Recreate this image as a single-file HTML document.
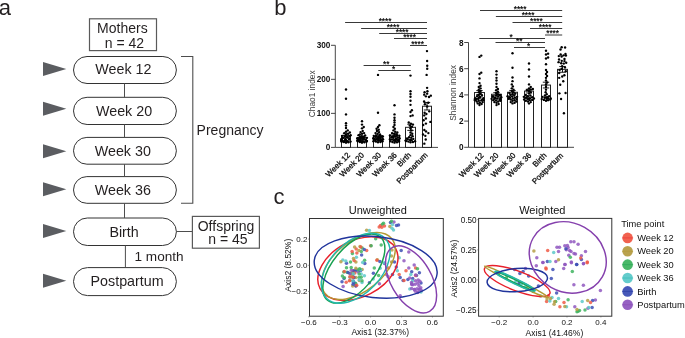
<!DOCTYPE html>
<html><head><meta charset="utf-8"><style>
html,body{margin:0;padding:0;background:#fff;}
body{width:685px;height:338px;overflow:hidden;}
svg{display:block;will-change:transform;font-family:"Liberation Sans", sans-serif;}
</style></head><body>
<svg width="685" height="338" viewBox="0 0 685 338">
<text x="-1.2" y="15.3" font-size="22" text-anchor="start" fill="#231f20" font-weight="normal" >a</text>
<rect x="89.5" y="18.8" width="67" height="31.8" fill="none" stroke="#5a5a5a" stroke-width="1.2"/>
<text x="122.4" y="33.2" font-size="14" text-anchor="middle" fill="#231f20" font-weight="normal" >Mothers</text>
<text x="124.4" y="47.5" font-size="14" text-anchor="middle" fill="#231f20" font-weight="normal" >n = 42</text>
<rect x="73.5" y="56.5" width="102.9" height="27.0" rx="13.5" ry="13.5" fill="#fff" stroke="#333" stroke-width="1"/>
<text x="123.35" y="74.1" font-size="14.3" text-anchor="middle" fill="#231f20" font-weight="normal" >Week 12</text>
<polygon points="43,62.10 66.3,69.10 43,76.10" fill="#5b5d61"/>
<rect x="73.5" y="97.3" width="102.9" height="27.2" rx="13.6" ry="13.6" fill="#fff" stroke="#333" stroke-width="1"/>
<text x="124.05" y="115.5" font-size="14.3" text-anchor="middle" fill="#231f20" font-weight="normal" >Week 20</text>
<polygon points="43,101.80 66.3,108.80 43,115.80" fill="#5b5d61"/>
<line x1="124.5" y1="83.5" x2="124.5" y2="97.3" stroke="#4d4d4d" stroke-width="1"/>
<rect x="73.5" y="137.4" width="102.9" height="26.8" rx="13.4" ry="13.4" fill="#fff" stroke="#333" stroke-width="1"/>
<text x="122.80" y="155.9" font-size="14.3" text-anchor="middle" fill="#231f20" font-weight="normal" >Week 30</text>
<polygon points="43,144.20 66.3,151.20 43,158.20" fill="#5b5d61"/>
<line x1="124.5" y1="124.5" x2="124.5" y2="137.4" stroke="#4d4d4d" stroke-width="1"/>
<rect x="73.5" y="176.6" width="102.9" height="26.7" rx="13.35" ry="13.35" fill="#fff" stroke="#333" stroke-width="1"/>
<text x="122.80" y="194.8" font-size="14.3" text-anchor="middle" fill="#231f20" font-weight="normal" >Week 36</text>
<polygon points="43,182.20 66.3,189.20 43,196.20" fill="#5b5d61"/>
<line x1="124.5" y1="164.20000000000002" x2="124.5" y2="176.6" stroke="#4d4d4d" stroke-width="1"/>
<rect x="73.5" y="218.0" width="102.9" height="27.5" rx="13.75" ry="13.75" fill="#fff" stroke="#333" stroke-width="1"/>
<text x="124.10" y="236.6" font-size="14.3" text-anchor="middle" fill="#231f20" font-weight="normal" >Birth</text>
<polygon points="43,223.90 66.3,230.90 43,237.90" fill="#5b5d61"/>
<line x1="124.5" y1="203.29999999999998" x2="124.5" y2="218.0" stroke="#4d4d4d" stroke-width="1"/>
<rect x="73.5" y="267.6" width="102.9" height="28.0" rx="14.0" ry="14.0" fill="#fff" stroke="#333" stroke-width="1"/>
<text x="127.10" y="286.1" font-size="14.3" text-anchor="middle" fill="#231f20" font-weight="normal" >Postpartum</text>
<polygon points="43,273.70 66.3,280.70 43,287.70" fill="#5b5d61"/>
<line x1="125.4" y1="245.5" x2="125.4" y2="267.6" stroke="#4d4d4d" stroke-width="1"/>
<polyline points="181,56.5 192.8,56.5 192.8,203.2 181,203.2" fill="none" stroke="#4d4d4d" stroke-width="1.1"/>
<text x="196.6" y="135.2" font-size="14" text-anchor="start" fill="#231f20" font-weight="normal" >Pregnancy</text>
<line x1="176.4" y1="231.5" x2="192.4" y2="231.5" stroke="#4d4d4d" stroke-width="1"/>
<rect x="192.4" y="216.4" width="67" height="31.8" fill="none" stroke="#5a5a5a" stroke-width="1.2"/>
<text x="226" y="230.6" font-size="14" text-anchor="middle" fill="#231f20" font-weight="normal" >Offspring</text>
<text x="228" y="244.4" font-size="14" text-anchor="middle" fill="#231f20" font-weight="normal" >n = 45</text>
<text x="134.5" y="260.8" font-size="13.6" text-anchor="start" fill="#231f20" font-weight="normal" >1 month</text>
<text x="274.2" y="15.3" font-size="22" text-anchor="start" fill="#231f20" font-weight="normal" >b</text>
<line x1="335.3" y1="45.31" x2="335.3" y2="147.4" stroke="#333" stroke-width="0.9"/>
<line x1="335.3" y1="147.4" x2="438" y2="147.4" stroke="#333" stroke-width="0.9"/>
<line x1="331.0" y1="147.40" x2="335.3" y2="147.40" stroke="#333" stroke-width="0.9"/>
<text x="330.3" y="150.40" font-size="8.2" text-anchor="end" fill="#111" font-weight="bold" >0</text>
<line x1="331.0" y1="113.37" x2="335.3" y2="113.37" stroke="#333" stroke-width="0.9"/>
<text x="330.3" y="116.37" font-size="8.2" text-anchor="end" fill="#111" font-weight="bold" >100</text>
<line x1="331.0" y1="79.34" x2="335.3" y2="79.34" stroke="#333" stroke-width="0.9"/>
<text x="330.3" y="82.34" font-size="8.2" text-anchor="end" fill="#111" font-weight="bold" >200</text>
<line x1="331.0" y1="45.31" x2="335.3" y2="45.31" stroke="#333" stroke-width="0.9"/>
<text x="330.3" y="48.31" font-size="8.2" text-anchor="end" fill="#111" font-weight="bold" >300</text>
<rect x="341.50" y="135.49" width="9.00" height="11.91" fill="#fff" stroke="#222" stroke-width="1"/>
<circle cx="346.00" cy="142.64" r="1.2" fill="#000"/>
<circle cx="348.45" cy="142.30" r="1.2" fill="#000"/>
<circle cx="343.90" cy="141.96" r="1.2" fill="#000"/>
<circle cx="350.55" cy="141.61" r="1.2" fill="#000"/>
<circle cx="341.45" cy="141.61" r="1.2" fill="#000"/>
<circle cx="344.17" cy="141.27" r="1.2" fill="#000"/>
<circle cx="342.37" cy="141.27" r="1.2" fill="#000"/>
<circle cx="347.57" cy="141.27" r="1.2" fill="#000"/>
<circle cx="341.55" cy="140.93" r="1.2" fill="#000"/>
<circle cx="346.37" cy="140.93" r="1.2" fill="#000"/>
<circle cx="344.60" cy="140.59" r="1.2" fill="#000"/>
<circle cx="341.40" cy="140.59" r="1.2" fill="#000"/>
<circle cx="346.08" cy="140.25" r="1.2" fill="#000"/>
<circle cx="341.19" cy="139.91" r="1.2" fill="#000"/>
<circle cx="345.31" cy="139.91" r="1.2" fill="#000"/>
<circle cx="349.15" cy="139.57" r="1.2" fill="#000"/>
<circle cx="341.53" cy="139.23" r="1.2" fill="#000"/>
<circle cx="341.74" cy="138.89" r="1.2" fill="#000"/>
<circle cx="345.21" cy="138.89" r="1.2" fill="#000"/>
<circle cx="349.40" cy="138.55" r="1.2" fill="#000"/>
<circle cx="342.09" cy="138.21" r="1.2" fill="#000"/>
<circle cx="343.12" cy="137.87" r="1.2" fill="#000"/>
<circle cx="347.05" cy="137.53" r="1.2" fill="#000"/>
<circle cx="347.33" cy="137.19" r="1.2" fill="#000"/>
<circle cx="344.95" cy="136.51" r="1.2" fill="#000"/>
<circle cx="349.50" cy="136.17" r="1.2" fill="#000"/>
<circle cx="342.15" cy="135.83" r="1.2" fill="#000"/>
<circle cx="350.66" cy="135.15" r="1.2" fill="#000"/>
<circle cx="346.00" cy="134.47" r="1.2" fill="#000"/>
<circle cx="348.10" cy="133.79" r="1.2" fill="#000"/>
<circle cx="344.25" cy="133.11" r="1.2" fill="#000"/>
<circle cx="349.85" cy="132.43" r="1.2" fill="#000"/>
<circle cx="346.00" cy="131.75" r="1.2" fill="#000"/>
<circle cx="347.75" cy="130.38" r="1.2" fill="#000"/>
<circle cx="346.00" cy="128.00" r="1.2" fill="#000"/>
<circle cx="346.00" cy="125.62" r="1.2" fill="#000"/>
<circle cx="346.00" cy="123.24" r="1.2" fill="#000"/>
<circle cx="346.00" cy="114.39" r="1.2" fill="#000"/>
<circle cx="346.00" cy="98.74" r="1.2" fill="#000"/>
<circle cx="346.00" cy="89.55" r="1.2" fill="#000"/>
<line x1="346.0" y1="133.79" x2="346.0" y2="137.19" stroke="#000" stroke-width="0.9"/>
<line x1="342.8" y1="133.79" x2="349.2" y2="133.79" stroke="#000" stroke-width="0.9"/>
<line x1="342.8" y1="137.19" x2="349.2" y2="137.19" stroke="#000" stroke-width="0.9"/>
<rect x="357.50" y="137.53" width="9.00" height="9.87" fill="#fff" stroke="#222" stroke-width="1"/>
<circle cx="362.00" cy="142.64" r="1.2" fill="#000"/>
<circle cx="364.45" cy="142.30" r="1.2" fill="#000"/>
<circle cx="359.90" cy="141.96" r="1.2" fill="#000"/>
<circle cx="366.55" cy="141.61" r="1.2" fill="#000"/>
<circle cx="357.80" cy="141.27" r="1.2" fill="#000"/>
<circle cx="362.80" cy="141.27" r="1.2" fill="#000"/>
<circle cx="360.93" cy="140.93" r="1.2" fill="#000"/>
<circle cx="366.95" cy="140.93" r="1.2" fill="#000"/>
<circle cx="357.28" cy="140.59" r="1.2" fill="#000"/>
<circle cx="365.73" cy="140.59" r="1.2" fill="#000"/>
<circle cx="359.81" cy="140.25" r="1.2" fill="#000"/>
<circle cx="358.30" cy="140.25" r="1.2" fill="#000"/>
<circle cx="358.03" cy="139.91" r="1.2" fill="#000"/>
<circle cx="360.01" cy="139.91" r="1.2" fill="#000"/>
<circle cx="365.29" cy="139.57" r="1.2" fill="#000"/>
<circle cx="358.68" cy="139.57" r="1.2" fill="#000"/>
<circle cx="362.85" cy="139.23" r="1.2" fill="#000"/>
<circle cx="363.44" cy="139.23" r="1.2" fill="#000"/>
<circle cx="360.67" cy="138.89" r="1.2" fill="#000"/>
<circle cx="362.50" cy="138.89" r="1.2" fill="#000"/>
<circle cx="357.45" cy="138.55" r="1.2" fill="#000"/>
<circle cx="357.42" cy="138.21" r="1.2" fill="#000"/>
<circle cx="358.94" cy="138.21" r="1.2" fill="#000"/>
<circle cx="366.90" cy="137.87" r="1.2" fill="#000"/>
<circle cx="363.88" cy="137.53" r="1.2" fill="#000"/>
<circle cx="361.25" cy="137.19" r="1.2" fill="#000"/>
<circle cx="360.07" cy="136.85" r="1.2" fill="#000"/>
<circle cx="362.89" cy="136.51" r="1.2" fill="#000"/>
<circle cx="361.51" cy="136.17" r="1.2" fill="#000"/>
<circle cx="365.15" cy="135.49" r="1.2" fill="#000"/>
<circle cx="358.50" cy="135.15" r="1.2" fill="#000"/>
<circle cx="359.92" cy="134.47" r="1.2" fill="#000"/>
<circle cx="362.00" cy="133.79" r="1.2" fill="#000"/>
<circle cx="364.10" cy="133.11" r="1.2" fill="#000"/>
<circle cx="360.60" cy="132.09" r="1.2" fill="#000"/>
<circle cx="362.70" cy="131.07" r="1.2" fill="#000"/>
<circle cx="362.00" cy="128.34" r="1.2" fill="#000"/>
<circle cx="363.75" cy="126.98" r="1.2" fill="#000"/>
<circle cx="362.00" cy="124.60" r="1.2" fill="#000"/>
<circle cx="362.00" cy="121.20" r="1.2" fill="#000"/>
<line x1="362.0" y1="136.51" x2="362.0" y2="138.55" stroke="#000" stroke-width="0.9"/>
<line x1="358.8" y1="136.51" x2="365.2" y2="136.51" stroke="#000" stroke-width="0.9"/>
<line x1="358.8" y1="138.55" x2="365.2" y2="138.55" stroke="#000" stroke-width="0.9"/>
<rect x="373.50" y="136.51" width="9.00" height="10.89" fill="#fff" stroke="#222" stroke-width="1"/>
<circle cx="378.00" cy="142.30" r="1.2" fill="#000"/>
<circle cx="380.45" cy="141.96" r="1.2" fill="#000"/>
<circle cx="375.90" cy="141.61" r="1.2" fill="#000"/>
<circle cx="382.55" cy="141.27" r="1.2" fill="#000"/>
<circle cx="373.45" cy="141.27" r="1.2" fill="#000"/>
<circle cx="381.06" cy="140.93" r="1.2" fill="#000"/>
<circle cx="380.07" cy="140.59" r="1.2" fill="#000"/>
<circle cx="375.34" cy="140.59" r="1.2" fill="#000"/>
<circle cx="378.77" cy="140.25" r="1.2" fill="#000"/>
<circle cx="378.26" cy="140.25" r="1.2" fill="#000"/>
<circle cx="381.90" cy="139.91" r="1.2" fill="#000"/>
<circle cx="380.39" cy="139.91" r="1.2" fill="#000"/>
<circle cx="375.79" cy="139.57" r="1.2" fill="#000"/>
<circle cx="382.99" cy="139.23" r="1.2" fill="#000"/>
<circle cx="374.03" cy="139.23" r="1.2" fill="#000"/>
<circle cx="377.15" cy="138.89" r="1.2" fill="#000"/>
<circle cx="380.67" cy="138.89" r="1.2" fill="#000"/>
<circle cx="374.38" cy="138.55" r="1.2" fill="#000"/>
<circle cx="377.89" cy="138.21" r="1.2" fill="#000"/>
<circle cx="373.21" cy="138.21" r="1.2" fill="#000"/>
<circle cx="379.75" cy="137.87" r="1.2" fill="#000"/>
<circle cx="380.75" cy="137.53" r="1.2" fill="#000"/>
<circle cx="378.76" cy="137.19" r="1.2" fill="#000"/>
<circle cx="375.90" cy="136.85" r="1.2" fill="#000"/>
<circle cx="382.90" cy="136.51" r="1.2" fill="#000"/>
<circle cx="381.90" cy="136.17" r="1.2" fill="#000"/>
<circle cx="373.80" cy="135.83" r="1.2" fill="#000"/>
<circle cx="376.06" cy="135.49" r="1.2" fill="#000"/>
<circle cx="379.75" cy="135.15" r="1.2" fill="#000"/>
<circle cx="380.03" cy="134.47" r="1.2" fill="#000"/>
<circle cx="377.65" cy="133.79" r="1.2" fill="#000"/>
<circle cx="375.55" cy="133.11" r="1.2" fill="#000"/>
<circle cx="379.05" cy="132.09" r="1.2" fill="#000"/>
<circle cx="376.95" cy="131.07" r="1.2" fill="#000"/>
<circle cx="378.70" cy="129.70" r="1.2" fill="#000"/>
<circle cx="376.60" cy="128.68" r="1.2" fill="#000"/>
<circle cx="378.00" cy="126.98" r="1.2" fill="#000"/>
<circle cx="379.40" cy="125.28" r="1.2" fill="#000"/>
<circle cx="378.00" cy="112.69" r="1.2" fill="#000"/>
<circle cx="378.00" cy="74.92" r="1.2" fill="#000"/>
<line x1="378.0" y1="135.15" x2="378.0" y2="137.87" stroke="#000" stroke-width="0.9"/>
<line x1="374.8" y1="135.15" x2="381.2" y2="135.15" stroke="#000" stroke-width="0.9"/>
<line x1="374.8" y1="137.87" x2="381.2" y2="137.87" stroke="#000" stroke-width="0.9"/>
<rect x="389.50" y="135.15" width="10.00" height="12.25" fill="#fff" stroke="#222" stroke-width="1"/>
<circle cx="394.50" cy="142.64" r="1.2" fill="#000"/>
<circle cx="396.95" cy="142.30" r="1.2" fill="#000"/>
<circle cx="392.40" cy="141.96" r="1.2" fill="#000"/>
<circle cx="399.05" cy="141.61" r="1.2" fill="#000"/>
<circle cx="390.30" cy="141.27" r="1.2" fill="#000"/>
<circle cx="395.48" cy="140.93" r="1.2" fill="#000"/>
<circle cx="395.33" cy="140.59" r="1.2" fill="#000"/>
<circle cx="394.04" cy="140.59" r="1.2" fill="#000"/>
<circle cx="398.04" cy="140.25" r="1.2" fill="#000"/>
<circle cx="399.12" cy="139.91" r="1.2" fill="#000"/>
<circle cx="394.23" cy="139.91" r="1.2" fill="#000"/>
<circle cx="392.05" cy="139.57" r="1.2" fill="#000"/>
<circle cx="396.21" cy="139.23" r="1.2" fill="#000"/>
<circle cx="389.93" cy="139.23" r="1.2" fill="#000"/>
<circle cx="396.60" cy="138.89" r="1.2" fill="#000"/>
<circle cx="396.03" cy="138.55" r="1.2" fill="#000"/>
<circle cx="399.63" cy="138.21" r="1.2" fill="#000"/>
<circle cx="393.45" cy="137.87" r="1.2" fill="#000"/>
<circle cx="397.85" cy="137.53" r="1.2" fill="#000"/>
<circle cx="391.35" cy="137.19" r="1.2" fill="#000"/>
<circle cx="392.26" cy="136.85" r="1.2" fill="#000"/>
<circle cx="395.20" cy="136.51" r="1.2" fill="#000"/>
<circle cx="393.31" cy="136.17" r="1.2" fill="#000"/>
<circle cx="399.40" cy="135.83" r="1.2" fill="#000"/>
<circle cx="389.95" cy="135.49" r="1.2" fill="#000"/>
<circle cx="396.95" cy="135.15" r="1.2" fill="#000"/>
<circle cx="396.25" cy="134.47" r="1.2" fill="#000"/>
<circle cx="394.15" cy="133.79" r="1.2" fill="#000"/>
<circle cx="392.05" cy="133.11" r="1.2" fill="#000"/>
<circle cx="397.30" cy="132.43" r="1.2" fill="#000"/>
<circle cx="395.20" cy="131.75" r="1.2" fill="#000"/>
<circle cx="393.45" cy="130.38" r="1.2" fill="#000"/>
<circle cx="394.85" cy="128.68" r="1.2" fill="#000"/>
<circle cx="393.45" cy="126.98" r="1.2" fill="#000"/>
<circle cx="394.50" cy="124.94" r="1.2" fill="#000"/>
<circle cx="394.50" cy="122.56" r="1.2" fill="#000"/>
<circle cx="394.50" cy="120.18" r="1.2" fill="#000"/>
<circle cx="394.50" cy="117.79" r="1.2" fill="#000"/>
<circle cx="394.50" cy="114.39" r="1.2" fill="#000"/>
<circle cx="394.50" cy="105.20" r="1.2" fill="#000"/>
<line x1="394.5" y1="133.79" x2="394.5" y2="136.51" stroke="#000" stroke-width="0.9"/>
<line x1="391.3" y1="133.79" x2="397.7" y2="133.79" stroke="#000" stroke-width="0.9"/>
<line x1="391.3" y1="136.51" x2="397.7" y2="136.51" stroke="#000" stroke-width="0.9"/>
<rect x="405.50" y="127.32" width="10.00" height="20.08" fill="#fff" stroke="#222" stroke-width="1"/>
<circle cx="410.50" cy="142.30" r="1.2" fill="#000"/>
<circle cx="412.95" cy="141.96" r="1.2" fill="#000"/>
<circle cx="408.40" cy="141.61" r="1.2" fill="#000"/>
<circle cx="415.05" cy="141.27" r="1.2" fill="#000"/>
<circle cx="406.30" cy="140.93" r="1.2" fill="#000"/>
<circle cx="405.53" cy="140.59" r="1.2" fill="#000"/>
<circle cx="411.55" cy="140.25" r="1.2" fill="#000"/>
<circle cx="410.10" cy="139.91" r="1.2" fill="#000"/>
<circle cx="407.70" cy="139.23" r="1.2" fill="#000"/>
<circle cx="413.30" cy="138.89" r="1.2" fill="#000"/>
<circle cx="407.05" cy="138.55" r="1.2" fill="#000"/>
<circle cx="411.20" cy="137.87" r="1.2" fill="#000"/>
<circle cx="409.10" cy="137.19" r="1.2" fill="#000"/>
<circle cx="412.60" cy="136.17" r="1.2" fill="#000"/>
<circle cx="410.50" cy="135.15" r="1.2" fill="#000"/>
<circle cx="412.25" cy="133.79" r="1.2" fill="#000"/>
<circle cx="410.50" cy="132.43" r="1.2" fill="#000"/>
<circle cx="411.55" cy="130.38" r="1.2" fill="#000"/>
<circle cx="410.50" cy="128.34" r="1.2" fill="#000"/>
<circle cx="411.90" cy="126.64" r="1.2" fill="#000"/>
<circle cx="409.80" cy="125.62" r="1.2" fill="#000"/>
<circle cx="412.95" cy="124.60" r="1.2" fill="#000"/>
<circle cx="410.85" cy="123.58" r="1.2" fill="#000"/>
<circle cx="408.75" cy="122.56" r="1.2" fill="#000"/>
<circle cx="410.50" cy="116.09" r="1.2" fill="#000"/>
<circle cx="412.60" cy="115.41" r="1.2" fill="#000"/>
<circle cx="410.50" cy="112.01" r="1.2" fill="#000"/>
<circle cx="411.90" cy="110.31" r="1.2" fill="#000"/>
<circle cx="410.50" cy="104.86" r="1.2" fill="#000"/>
<circle cx="410.50" cy="100.78" r="1.2" fill="#000"/>
<circle cx="410.50" cy="96.70" r="1.2" fill="#000"/>
<circle cx="410.50" cy="93.97" r="1.2" fill="#000"/>
<circle cx="410.50" cy="91.25" r="1.2" fill="#000"/>
<circle cx="410.50" cy="75.60" r="1.2" fill="#000"/>
<line x1="410.5" y1="124.26" x2="410.5" y2="130.38" stroke="#000" stroke-width="0.9"/>
<line x1="407.3" y1="124.26" x2="413.7" y2="124.26" stroke="#000" stroke-width="0.9"/>
<line x1="407.3" y1="130.38" x2="413.7" y2="130.38" stroke="#000" stroke-width="0.9"/>
<rect x="422.50" y="106.22" width="9.00" height="41.18" fill="#fff" stroke="#222" stroke-width="1"/>
<circle cx="426.99" cy="51.10" r="1.2" fill="#000"/>
<circle cx="427.13" cy="60.96" r="1.2" fill="#000"/>
<circle cx="427.22" cy="65.73" r="1.2" fill="#000"/>
<circle cx="427.21" cy="68.79" r="1.2" fill="#000"/>
<circle cx="426.62" cy="74.92" r="1.2" fill="#000"/>
<circle cx="427.10" cy="87.85" r="1.2" fill="#000"/>
<circle cx="427.43" cy="91.25" r="1.2" fill="#000"/>
<circle cx="424.57" cy="92.27" r="1.2" fill="#000"/>
<circle cx="427.15" cy="93.63" r="1.2" fill="#000"/>
<circle cx="424.21" cy="94.65" r="1.2" fill="#000"/>
<circle cx="430.82" cy="95.67" r="1.2" fill="#000"/>
<circle cx="425.93" cy="96.36" r="1.2" fill="#000"/>
<circle cx="429.03" cy="97.04" r="1.2" fill="#000"/>
<circle cx="424.11" cy="101.46" r="1.2" fill="#000"/>
<circle cx="428.31" cy="102.82" r="1.2" fill="#000"/>
<circle cx="424.91" cy="104.18" r="1.2" fill="#000"/>
<circle cx="427.18" cy="106.56" r="1.2" fill="#000"/>
<circle cx="429.23" cy="111.33" r="1.2" fill="#000"/>
<circle cx="424.58" cy="112.69" r="1.2" fill="#000"/>
<circle cx="426.37" cy="114.05" r="1.2" fill="#000"/>
<circle cx="424.22" cy="115.41" r="1.2" fill="#000"/>
<circle cx="425.84" cy="118.47" r="1.2" fill="#000"/>
<circle cx="423.65" cy="120.18" r="1.2" fill="#000"/>
<circle cx="430.41" cy="121.88" r="1.2" fill="#000"/>
<circle cx="425.93" cy="123.58" r="1.2" fill="#000"/>
<circle cx="423.23" cy="124.94" r="1.2" fill="#000"/>
<circle cx="424.32" cy="130.04" r="1.2" fill="#000"/>
<circle cx="426.05" cy="131.41" r="1.2" fill="#000"/>
<circle cx="428.37" cy="133.11" r="1.2" fill="#000"/>
<circle cx="423.05" cy="134.47" r="1.2" fill="#000"/>
<circle cx="425.31" cy="135.83" r="1.2" fill="#000"/>
<circle cx="425.72" cy="139.57" r="1.2" fill="#000"/>
<circle cx="424.34" cy="143.66" r="1.2" fill="#000"/>
<line x1="427.0" y1="102.48" x2="427.0" y2="109.97" stroke="#000" stroke-width="0.9"/>
<line x1="423.8" y1="102.48" x2="430.2" y2="102.48" stroke="#000" stroke-width="0.9"/>
<line x1="423.8" y1="109.97" x2="430.2" y2="109.97" stroke="#000" stroke-width="0.9"/>
<line x1="345.1" y1="22.5" x2="427" y2="22.5" stroke="#222" stroke-width="0.9"/>
<text x="385.05" y="23.90" font-size="8.2" text-anchor="middle" fill="#111" font-weight="bold" >****</text>
<line x1="361.1" y1="28.5" x2="427" y2="28.5" stroke="#222" stroke-width="0.9"/>
<text x="393.05" y="29.90" font-size="8.2" text-anchor="middle" fill="#111" font-weight="bold" >****</text>
<line x1="379.2" y1="33.5" x2="427" y2="33.5" stroke="#222" stroke-width="0.9"/>
<text x="402.10" y="34.90" font-size="8.2" text-anchor="middle" fill="#111" font-weight="bold" >****</text>
<line x1="394" y1="38.5" x2="427" y2="38.5" stroke="#222" stroke-width="0.9"/>
<text x="409.50" y="39.90" font-size="8.2" text-anchor="middle" fill="#111" font-weight="bold" >****</text>
<line x1="410" y1="45.5" x2="427" y2="45.5" stroke="#222" stroke-width="0.9"/>
<text x="417.50" y="46.90" font-size="8.2" text-anchor="middle" fill="#111" font-weight="bold" >****</text>
<line x1="363.6" y1="65.5" x2="410.8" y2="65.5" stroke="#222" stroke-width="0.9"/>
<text x="386.20" y="66.90" font-size="8.2" text-anchor="middle" fill="#111" font-weight="bold" >**</text>
<line x1="378.3" y1="70.5" x2="410.8" y2="70.5" stroke="#222" stroke-width="0.9"/>
<text x="393.55" y="71.90" font-size="8.2" text-anchor="middle" fill="#111" font-weight="bold" >*</text>
<text x="315.0" y="93.8" font-size="8.4" text-anchor="middle" fill="#3a3a3a" transform="rotate(-90 315.0 93.8)">Chao1 index</text>
<text x="350.70" y="155.70" font-size="7.9" text-anchor="end" fill="#111" stroke="#111" stroke-width="0.3" transform="rotate(-45 350.70 155.70)">Week 12</text>
<text x="364.70" y="155.70" font-size="7.9" text-anchor="end" fill="#111" stroke="#111" stroke-width="0.3" transform="rotate(-45 364.70 155.70)">Week 20</text>
<text x="381.60" y="155.70" font-size="7.9" text-anchor="end" fill="#111" stroke="#111" stroke-width="0.3" transform="rotate(-45 381.60 155.70)">Week 30</text>
<text x="397.40" y="155.70" font-size="7.9" text-anchor="end" fill="#111" stroke="#111" stroke-width="0.3" transform="rotate(-45 397.40 155.70)">Week 36</text>
<text x="411.70" y="155.70" font-size="7.9" text-anchor="end" fill="#111" stroke="#111" stroke-width="0.3" transform="rotate(-45 411.70 155.70)">Birth</text>
<text x="428.20" y="155.70" font-size="7.9" text-anchor="end" fill="#111" stroke="#111" stroke-width="0.3" transform="rotate(-45 428.20 155.70)">Postpartum</text>
<line x1="468.5" y1="42.500000000000014" x2="468.5" y2="147.3" stroke="#333" stroke-width="0.9"/>
<line x1="468.5" y1="147.3" x2="574" y2="147.3" stroke="#333" stroke-width="0.9"/>
<line x1="464.2" y1="147.30" x2="468.5" y2="147.30" stroke="#333" stroke-width="0.9"/>
<text x="463.5" y="150.30" font-size="8.2" text-anchor="end" fill="#111" font-weight="bold" >0</text>
<line x1="464.2" y1="121.10" x2="468.5" y2="121.10" stroke="#333" stroke-width="0.9"/>
<text x="463.5" y="124.10" font-size="8.2" text-anchor="end" fill="#111" font-weight="bold" >2</text>
<line x1="464.2" y1="94.90" x2="468.5" y2="94.90" stroke="#333" stroke-width="0.9"/>
<text x="463.5" y="97.90" font-size="8.2" text-anchor="end" fill="#111" font-weight="bold" >4</text>
<line x1="464.2" y1="68.70" x2="468.5" y2="68.70" stroke="#333" stroke-width="0.9"/>
<text x="463.5" y="71.70" font-size="8.2" text-anchor="end" fill="#111" font-weight="bold" >6</text>
<line x1="464.2" y1="42.50" x2="468.5" y2="42.50" stroke="#333" stroke-width="0.9"/>
<text x="463.5" y="45.50" font-size="8.2" text-anchor="end" fill="#111" font-weight="bold" >8</text>
<rect x="474.50" y="92.54" width="10.00" height="54.76" fill="#fff" stroke="#222" stroke-width="1"/>
<circle cx="479.50" cy="104.99" r="1.2" fill="#000"/>
<circle cx="481.60" cy="104.07" r="1.2" fill="#000"/>
<circle cx="477.75" cy="103.42" r="1.2" fill="#000"/>
<circle cx="479.85" cy="102.76" r="1.2" fill="#000"/>
<circle cx="482.65" cy="102.11" r="1.2" fill="#000"/>
<circle cx="476.70" cy="101.45" r="1.2" fill="#000"/>
<circle cx="478.80" cy="100.80" r="1.2" fill="#000"/>
<circle cx="481.25" cy="100.40" r="1.2" fill="#000"/>
<circle cx="483.70" cy="100.14" r="1.2" fill="#000"/>
<circle cx="474.95" cy="100.14" r="1.2" fill="#000"/>
<circle cx="475.52" cy="99.88" r="1.2" fill="#000"/>
<circle cx="474.91" cy="99.49" r="1.2" fill="#000"/>
<circle cx="482.29" cy="99.49" r="1.2" fill="#000"/>
<circle cx="475.65" cy="99.09" r="1.2" fill="#000"/>
<circle cx="476.88" cy="98.83" r="1.2" fill="#000"/>
<circle cx="478.37" cy="98.83" r="1.2" fill="#000"/>
<circle cx="483.36" cy="98.18" r="1.2" fill="#000"/>
<circle cx="475.14" cy="98.18" r="1.2" fill="#000"/>
<circle cx="480.20" cy="97.52" r="1.2" fill="#000"/>
<circle cx="478.97" cy="97.52" r="1.2" fill="#000"/>
<circle cx="480.01" cy="96.87" r="1.2" fill="#000"/>
<circle cx="477.05" cy="96.21" r="1.2" fill="#000"/>
<circle cx="481.95" cy="95.56" r="1.2" fill="#000"/>
<circle cx="478.80" cy="94.90" r="1.2" fill="#000"/>
<circle cx="480.55" cy="93.59" r="1.2" fill="#000"/>
<circle cx="478.80" cy="92.28" r="1.2" fill="#000"/>
<circle cx="480.55" cy="90.97" r="1.2" fill="#000"/>
<circle cx="478.80" cy="89.66" r="1.2" fill="#000"/>
<circle cx="480.55" cy="88.35" r="1.2" fill="#000"/>
<circle cx="478.80" cy="87.04" r="1.2" fill="#000"/>
<circle cx="480.55" cy="85.73" r="1.2" fill="#000"/>
<circle cx="479.50" cy="83.11" r="1.2" fill="#000"/>
<circle cx="479.50" cy="78.39" r="1.2" fill="#000"/>
<circle cx="479.50" cy="73.94" r="1.2" fill="#000"/>
<circle cx="481.25" cy="72.63" r="1.2" fill="#000"/>
<circle cx="479.50" cy="56.91" r="1.2" fill="#000"/>
<circle cx="481.25" cy="55.60" r="1.2" fill="#000"/>
<line x1="479.5" y1="90.58" x2="479.5" y2="94.51" stroke="#000" stroke-width="0.9"/>
<line x1="476.3" y1="90.58" x2="482.7" y2="90.58" stroke="#000" stroke-width="0.9"/>
<line x1="476.3" y1="94.51" x2="482.7" y2="94.51" stroke="#000" stroke-width="0.9"/>
<rect x="491.50" y="94.25" width="10.00" height="53.06" fill="#fff" stroke="#222" stroke-width="1"/>
<circle cx="496.50" cy="105.12" r="1.2" fill="#000"/>
<circle cx="498.60" cy="104.07" r="1.2" fill="#000"/>
<circle cx="496.50" cy="102.76" r="1.2" fill="#000"/>
<circle cx="494.40" cy="102.11" r="1.2" fill="#000"/>
<circle cx="498.25" cy="101.45" r="1.2" fill="#000"/>
<circle cx="500.35" cy="100.80" r="1.2" fill="#000"/>
<circle cx="496.15" cy="100.40" r="1.2" fill="#000"/>
<circle cx="493.35" cy="100.14" r="1.2" fill="#000"/>
<circle cx="500.49" cy="99.88" r="1.2" fill="#000"/>
<circle cx="499.82" cy="99.49" r="1.2" fill="#000"/>
<circle cx="500.29" cy="99.09" r="1.2" fill="#000"/>
<circle cx="491.60" cy="98.83" r="1.2" fill="#000"/>
<circle cx="494.20" cy="98.83" r="1.2" fill="#000"/>
<circle cx="497.55" cy="98.57" r="1.2" fill="#000"/>
<circle cx="495.62" cy="98.18" r="1.2" fill="#000"/>
<circle cx="495.03" cy="97.78" r="1.2" fill="#000"/>
<circle cx="500.50" cy="97.52" r="1.2" fill="#000"/>
<circle cx="501.26" cy="97.26" r="1.2" fill="#000"/>
<circle cx="493.00" cy="96.87" r="1.2" fill="#000"/>
<circle cx="498.25" cy="96.47" r="1.2" fill="#000"/>
<circle cx="492.87" cy="96.21" r="1.2" fill="#000"/>
<circle cx="496.15" cy="95.56" r="1.2" fill="#000"/>
<circle cx="500.00" cy="94.90" r="1.2" fill="#000"/>
<circle cx="497.90" cy="94.25" r="1.2" fill="#000"/>
<circle cx="496.15" cy="92.94" r="1.2" fill="#000"/>
<circle cx="497.90" cy="91.63" r="1.2" fill="#000"/>
<circle cx="496.15" cy="90.32" r="1.2" fill="#000"/>
<circle cx="497.90" cy="89.01" r="1.2" fill="#000"/>
<circle cx="496.50" cy="87.04" r="1.2" fill="#000"/>
<circle cx="496.50" cy="83.77" r="1.2" fill="#000"/>
<circle cx="496.50" cy="80.49" r="1.2" fill="#000"/>
<circle cx="496.50" cy="77.87" r="1.2" fill="#000"/>
<circle cx="496.50" cy="74.60" r="1.2" fill="#000"/>
<circle cx="496.50" cy="71.32" r="1.2" fill="#000"/>
<line x1="496.5" y1="92.67" x2="496.5" y2="95.82" stroke="#000" stroke-width="0.9"/>
<line x1="493.3" y1="92.67" x2="499.7" y2="92.67" stroke="#000" stroke-width="0.9"/>
<line x1="493.3" y1="95.82" x2="499.7" y2="95.82" stroke="#000" stroke-width="0.9"/>
<rect x="507.50" y="92.28" width="10.00" height="55.02" fill="#fff" stroke="#222" stroke-width="1"/>
<circle cx="512.50" cy="103.42" r="1.2" fill="#000"/>
<circle cx="514.60" cy="102.76" r="1.2" fill="#000"/>
<circle cx="510.75" cy="102.11" r="1.2" fill="#000"/>
<circle cx="516.35" cy="101.45" r="1.2" fill="#000"/>
<circle cx="512.50" cy="100.80" r="1.2" fill="#000"/>
<circle cx="514.60" cy="100.14" r="1.2" fill="#000"/>
<circle cx="510.75" cy="99.49" r="1.2" fill="#000"/>
<circle cx="516.70" cy="99.09" r="1.2" fill="#000"/>
<circle cx="508.65" cy="98.83" r="1.2" fill="#000"/>
<circle cx="512.85" cy="98.57" r="1.2" fill="#000"/>
<circle cx="509.13" cy="98.18" r="1.2" fill="#000"/>
<circle cx="514.95" cy="97.78" r="1.2" fill="#000"/>
<circle cx="509.71" cy="97.52" r="1.2" fill="#000"/>
<circle cx="509.73" cy="97.26" r="1.2" fill="#000"/>
<circle cx="517.05" cy="96.87" r="1.2" fill="#000"/>
<circle cx="512.15" cy="96.47" r="1.2" fill="#000"/>
<circle cx="507.60" cy="96.21" r="1.2" fill="#000"/>
<circle cx="514.25" cy="95.56" r="1.2" fill="#000"/>
<circle cx="510.40" cy="94.90" r="1.2" fill="#000"/>
<circle cx="512.50" cy="94.25" r="1.2" fill="#000"/>
<circle cx="515.30" cy="93.59" r="1.2" fill="#000"/>
<circle cx="509.35" cy="92.94" r="1.2" fill="#000"/>
<circle cx="513.55" cy="92.28" r="1.2" fill="#000"/>
<circle cx="511.80" cy="90.97" r="1.2" fill="#000"/>
<circle cx="513.55" cy="89.66" r="1.2" fill="#000"/>
<circle cx="511.80" cy="88.35" r="1.2" fill="#000"/>
<circle cx="512.85" cy="86.39" r="1.2" fill="#000"/>
<circle cx="511.80" cy="84.42" r="1.2" fill="#000"/>
<circle cx="512.50" cy="81.15" r="1.2" fill="#000"/>
<circle cx="512.50" cy="77.48" r="1.2" fill="#000"/>
<circle cx="512.50" cy="67.78" r="1.2" fill="#000"/>
<circle cx="512.50" cy="53.24" r="1.2" fill="#000"/>
<line x1="512.5" y1="90.45" x2="512.5" y2="94.11" stroke="#000" stroke-width="0.9"/>
<line x1="509.3" y1="90.45" x2="515.7" y2="90.45" stroke="#000" stroke-width="0.9"/>
<line x1="509.3" y1="94.11" x2="515.7" y2="94.11" stroke="#000" stroke-width="0.9"/>
<rect x="524.50" y="91.10" width="9.00" height="56.20" fill="#fff" stroke="#222" stroke-width="1"/>
<circle cx="529.00" cy="103.42" r="1.2" fill="#000"/>
<circle cx="530.75" cy="102.11" r="1.2" fill="#000"/>
<circle cx="527.95" cy="101.45" r="1.2" fill="#000"/>
<circle cx="525.85" cy="100.80" r="1.2" fill="#000"/>
<circle cx="529.70" cy="100.14" r="1.2" fill="#000"/>
<circle cx="532.15" cy="99.88" r="1.2" fill="#000"/>
<circle cx="524.10" cy="99.49" r="1.2" fill="#000"/>
<circle cx="527.60" cy="99.09" r="1.2" fill="#000"/>
<circle cx="528.84" cy="98.83" r="1.2" fill="#000"/>
<circle cx="533.90" cy="98.57" r="1.2" fill="#000"/>
<circle cx="529.93" cy="98.18" r="1.2" fill="#000"/>
<circle cx="525.85" cy="97.78" r="1.2" fill="#000"/>
<circle cx="526.53" cy="97.52" r="1.2" fill="#000"/>
<circle cx="532.15" cy="97.26" r="1.2" fill="#000"/>
<circle cx="523.84" cy="96.87" r="1.2" fill="#000"/>
<circle cx="528.16" cy="96.47" r="1.2" fill="#000"/>
<circle cx="527.64" cy="96.21" r="1.2" fill="#000"/>
<circle cx="530.40" cy="95.56" r="1.2" fill="#000"/>
<circle cx="525.85" cy="94.90" r="1.2" fill="#000"/>
<circle cx="529.00" cy="93.59" r="1.2" fill="#000"/>
<circle cx="530.75" cy="92.28" r="1.2" fill="#000"/>
<circle cx="529.00" cy="90.97" r="1.2" fill="#000"/>
<circle cx="526.90" cy="90.32" r="1.2" fill="#000"/>
<circle cx="530.75" cy="89.66" r="1.2" fill="#000"/>
<circle cx="532.85" cy="89.01" r="1.2" fill="#000"/>
<circle cx="529.00" cy="88.35" r="1.2" fill="#000"/>
<circle cx="530.75" cy="87.04" r="1.2" fill="#000"/>
<circle cx="529.00" cy="84.42" r="1.2" fill="#000"/>
<circle cx="529.00" cy="76.56" r="1.2" fill="#000"/>
<circle cx="529.00" cy="69.49" r="1.2" fill="#000"/>
<circle cx="529.00" cy="63.46" r="1.2" fill="#000"/>
<line x1="529.0" y1="89.27" x2="529.0" y2="92.94" stroke="#000" stroke-width="0.9"/>
<line x1="525.8" y1="89.27" x2="532.2" y2="89.27" stroke="#000" stroke-width="0.9"/>
<line x1="525.8" y1="92.94" x2="532.2" y2="92.94" stroke="#000" stroke-width="0.9"/>
<rect x="541.50" y="85.08" width="9.00" height="62.22" fill="#fff" stroke="#222" stroke-width="1"/>
<circle cx="546.00" cy="100.80" r="1.2" fill="#000"/>
<circle cx="548.10" cy="100.14" r="1.2" fill="#000"/>
<circle cx="543.90" cy="99.88" r="1.2" fill="#000"/>
<circle cx="550.20" cy="99.49" r="1.2" fill="#000"/>
<circle cx="541.80" cy="99.09" r="1.2" fill="#000"/>
<circle cx="546.69" cy="98.83" r="1.2" fill="#000"/>
<circle cx="550.71" cy="98.57" r="1.2" fill="#000"/>
<circle cx="547.98" cy="98.18" r="1.2" fill="#000"/>
<circle cx="544.60" cy="97.78" r="1.2" fill="#000"/>
<circle cx="546.16" cy="97.52" r="1.2" fill="#000"/>
<circle cx="547.22" cy="97.26" r="1.2" fill="#000"/>
<circle cx="542.50" cy="96.87" r="1.2" fill="#000"/>
<circle cx="549.15" cy="96.21" r="1.2" fill="#000"/>
<circle cx="544.95" cy="95.56" r="1.2" fill="#000"/>
<circle cx="546.70" cy="94.25" r="1.2" fill="#000"/>
<circle cx="545.65" cy="92.28" r="1.2" fill="#000"/>
<circle cx="546.00" cy="89.66" r="1.2" fill="#000"/>
<circle cx="546.00" cy="87.04" r="1.2" fill="#000"/>
<circle cx="546.00" cy="84.42" r="1.2" fill="#000"/>
<circle cx="547.05" cy="82.46" r="1.2" fill="#000"/>
<circle cx="546.00" cy="80.49" r="1.2" fill="#000"/>
<circle cx="546.00" cy="77.87" r="1.2" fill="#000"/>
<circle cx="547.05" cy="75.91" r="1.2" fill="#000"/>
<circle cx="546.00" cy="73.94" r="1.2" fill="#000"/>
<circle cx="547.05" cy="71.98" r="1.2" fill="#000"/>
<circle cx="546.00" cy="70.01" r="1.2" fill="#000"/>
<circle cx="546.00" cy="64.25" r="1.2" fill="#000"/>
<circle cx="546.00" cy="58.48" r="1.2" fill="#000"/>
<circle cx="548.10" cy="57.43" r="1.2" fill="#000"/>
<circle cx="546.00" cy="54.55" r="1.2" fill="#000"/>
<circle cx="548.10" cy="53.64" r="1.2" fill="#000"/>
<circle cx="546.00" cy="50.75" r="1.2" fill="#000"/>
<line x1="546.0" y1="82.19" x2="546.0" y2="87.96" stroke="#000" stroke-width="0.9"/>
<line x1="542.8" y1="82.19" x2="549.2" y2="82.19" stroke="#000" stroke-width="0.9"/>
<line x1="542.8" y1="87.96" x2="549.2" y2="87.96" stroke="#000" stroke-width="0.9"/>
<rect x="557.50" y="69.36" width="10.00" height="77.94" fill="#fff" stroke="#222" stroke-width="1"/>
<circle cx="561.66" cy="47.22" r="1.2" fill="#000"/>
<circle cx="565.09" cy="47.48" r="1.2" fill="#000"/>
<circle cx="560.52" cy="49.44" r="1.2" fill="#000"/>
<circle cx="565.49" cy="54.03" r="1.2" fill="#000"/>
<circle cx="560.65" cy="54.55" r="1.2" fill="#000"/>
<circle cx="563.58" cy="55.34" r="1.2" fill="#000"/>
<circle cx="565.93" cy="55.60" r="1.2" fill="#000"/>
<circle cx="558.81" cy="56.12" r="1.2" fill="#000"/>
<circle cx="561.64" cy="56.52" r="1.2" fill="#000"/>
<circle cx="564.47" cy="58.88" r="1.2" fill="#000"/>
<circle cx="559.06" cy="59.53" r="1.2" fill="#000"/>
<circle cx="561.75" cy="60.84" r="1.2" fill="#000"/>
<circle cx="564.46" cy="61.10" r="1.2" fill="#000"/>
<circle cx="558.60" cy="62.15" r="1.2" fill="#000"/>
<circle cx="566.19" cy="62.81" r="1.2" fill="#000"/>
<circle cx="561.23" cy="63.20" r="1.2" fill="#000"/>
<circle cx="563.76" cy="63.59" r="1.2" fill="#000"/>
<circle cx="562.13" cy="66.08" r="1.2" fill="#000"/>
<circle cx="564.94" cy="67.39" r="1.2" fill="#000"/>
<circle cx="561.60" cy="68.70" r="1.2" fill="#000"/>
<circle cx="559.56" cy="70.01" r="1.2" fill="#000"/>
<circle cx="565.77" cy="71.32" r="1.2" fill="#000"/>
<circle cx="559.18" cy="73.02" r="1.2" fill="#000"/>
<circle cx="564.37" cy="75.25" r="1.2" fill="#000"/>
<circle cx="562.22" cy="76.56" r="1.2" fill="#000"/>
<circle cx="559.19" cy="77.87" r="1.2" fill="#000"/>
<circle cx="563.25" cy="81.28" r="1.2" fill="#000"/>
<circle cx="560.22" cy="84.81" r="1.2" fill="#000"/>
<circle cx="565.56" cy="93.07" r="1.2" fill="#000"/>
<circle cx="559.41" cy="93.33" r="1.2" fill="#000"/>
<circle cx="561.06" cy="98.96" r="1.2" fill="#000"/>
<circle cx="563.92" cy="113.24" r="1.2" fill="#000"/>
<line x1="562.5" y1="66.47" x2="562.5" y2="72.24" stroke="#000" stroke-width="0.9"/>
<line x1="559.3" y1="66.47" x2="565.7" y2="66.47" stroke="#000" stroke-width="0.9"/>
<line x1="559.3" y1="72.24" x2="565.7" y2="72.24" stroke="#000" stroke-width="0.9"/>
<line x1="480" y1="10.5" x2="562.2" y2="10.5" stroke="#222" stroke-width="0.9"/>
<text x="520.10" y="11.90" font-size="8.2" text-anchor="middle" fill="#111" font-weight="bold" >****</text>
<line x1="495.9" y1="16.5" x2="562.2" y2="16.5" stroke="#222" stroke-width="0.9"/>
<text x="528.05" y="17.90" font-size="8.2" text-anchor="middle" fill="#111" font-weight="bold" >****</text>
<line x1="512.5" y1="22.5" x2="562.2" y2="22.5" stroke="#222" stroke-width="0.9"/>
<text x="536.35" y="23.90" font-size="8.2" text-anchor="middle" fill="#111" font-weight="bold" >****</text>
<line x1="530" y1="28.5" x2="562.2" y2="28.5" stroke="#222" stroke-width="0.9"/>
<text x="545.10" y="29.90" font-size="8.2" text-anchor="middle" fill="#111" font-weight="bold" >****</text>
<line x1="545" y1="35.0" x2="562.2" y2="35.0" stroke="#222" stroke-width="0.9"/>
<text x="552.60" y="36.40" font-size="8.2" text-anchor="middle" fill="#111" font-weight="bold" >****</text>
<line x1="479.3" y1="38.5" x2="545" y2="38.5" stroke="#222" stroke-width="0.9"/>
<text x="511.15" y="39.90" font-size="8.2" text-anchor="middle" fill="#111" font-weight="bold" >*</text>
<line x1="495.5" y1="42.5" x2="545" y2="42.5" stroke="#222" stroke-width="0.9"/>
<text x="519.25" y="43.90" font-size="8.2" text-anchor="middle" fill="#111" font-weight="bold" >**</text>
<line x1="514" y1="47.5" x2="545" y2="47.5" stroke="#222" stroke-width="0.9"/>
<text x="528.50" y="48.90" font-size="8.2" text-anchor="middle" fill="#111" font-weight="bold" >*</text>
<text x="456.3" y="92.9" font-size="8.4" text-anchor="middle" fill="#3a3a3a" transform="rotate(-90 456.3 92.9)">Shannon index</text>
<text x="484.20" y="156.00" font-size="7.9" text-anchor="end" fill="#111" stroke="#111" stroke-width="0.3" transform="rotate(-45 484.20 156.00)">Week 12</text>
<text x="499.20" y="156.00" font-size="7.9" text-anchor="end" fill="#111" stroke="#111" stroke-width="0.3" transform="rotate(-45 499.20 156.00)">Week 20</text>
<text x="516.10" y="156.00" font-size="7.9" text-anchor="end" fill="#111" stroke="#111" stroke-width="0.3" transform="rotate(-45 516.10 156.00)">Week 30</text>
<text x="531.90" y="156.00" font-size="7.9" text-anchor="end" fill="#111" stroke="#111" stroke-width="0.3" transform="rotate(-45 531.90 156.00)">Week 36</text>
<text x="547.20" y="156.00" font-size="7.9" text-anchor="end" fill="#111" stroke="#111" stroke-width="0.3" transform="rotate(-45 547.20 156.00)">Birth</text>
<text x="563.70" y="156.00" font-size="7.9" text-anchor="end" fill="#111" stroke="#111" stroke-width="0.3" transform="rotate(-45 563.70 156.00)">Postpartum</text>
<text x="273.5" y="204.4" font-size="22" text-anchor="start" fill="#231f20" font-weight="normal" >c</text>
<rect x="309.5" y="218.5" width="133.8" height="97.69999999999999" fill="none" stroke="#333" stroke-width="1"/>
<text x="377.8" y="214.0" font-size="11" text-anchor="middle" fill="#111" font-weight="normal" >Unweighted</text>
<line x1="308.9" y1="316.2" x2="308.9" y2="317.4" stroke="#555" stroke-width="0.7"/>
<text x="308.9" y="324.8" font-size="8" text-anchor="middle" fill="#111" font-weight="normal" >−0.6</text>
<line x1="339.8" y1="316.2" x2="339.8" y2="317.4" stroke="#555" stroke-width="0.7"/>
<text x="339.8" y="324.8" font-size="8" text-anchor="middle" fill="#111" font-weight="normal" >−0.3</text>
<line x1="370.6" y1="316.2" x2="370.6" y2="317.4" stroke="#555" stroke-width="0.7"/>
<text x="370.6" y="324.8" font-size="8" text-anchor="middle" fill="#111" font-weight="normal" >0.0</text>
<line x1="401.6" y1="316.2" x2="401.6" y2="317.4" stroke="#555" stroke-width="0.7"/>
<text x="401.6" y="324.8" font-size="8" text-anchor="middle" fill="#111" font-weight="normal" >0.3</text>
<line x1="432.4" y1="316.2" x2="432.4" y2="317.4" stroke="#555" stroke-width="0.7"/>
<text x="432.4" y="324.8" font-size="8" text-anchor="middle" fill="#111" font-weight="normal" >0.6</text>
<line x1="308.3" y1="239.1" x2="309.5" y2="239.1" stroke="#555" stroke-width="0.7"/>
<text x="307.4" y="242.0" font-size="8" text-anchor="end" fill="#111" font-weight="normal" >0.2</text>
<line x1="308.3" y1="265.3" x2="309.5" y2="265.3" stroke="#555" stroke-width="0.7"/>
<text x="307.4" y="268.2" font-size="8" text-anchor="end" fill="#111" font-weight="normal" >0.0</text>
<line x1="308.3" y1="291.5" x2="309.5" y2="291.5" stroke="#555" stroke-width="0.7"/>
<text x="307.4" y="294.4" font-size="8" text-anchor="end" fill="#111" font-weight="normal" >−0.2</text>
<text x="380.2" y="335.2" font-size="8.5" text-anchor="middle" fill="#111" font-weight="normal" >Axis1 (32.37%)</text>
<text x="291.3" y="265.2" font-size="8.5" text-anchor="middle" fill="#111" transform="rotate(-90 291.3 265.2)">Axis2 (8.52%)</text>
<rect x="478.6" y="218.4" width="133.19999999999993" height="97.79999999999998" fill="none" stroke="#333" stroke-width="1"/>
<text x="542.3" y="214.1" font-size="11" text-anchor="middle" fill="#111" font-weight="normal" >Weighted</text>
<line x1="499.2" y1="316.2" x2="499.2" y2="317.4" stroke="#555" stroke-width="0.7"/>
<text x="499.2" y="324.8" font-size="8" text-anchor="middle" fill="#111" font-weight="normal" >−0.2</text>
<line x1="533.1" y1="316.2" x2="533.1" y2="317.4" stroke="#555" stroke-width="0.7"/>
<text x="533.1" y="324.8" font-size="8" text-anchor="middle" fill="#111" font-weight="normal" >0.0</text>
<line x1="567.0" y1="316.2" x2="567.0" y2="317.4" stroke="#555" stroke-width="0.7"/>
<text x="567.0" y="324.8" font-size="8" text-anchor="middle" fill="#111" font-weight="normal" >0.2</text>
<line x1="600.9" y1="316.2" x2="600.9" y2="317.4" stroke="#555" stroke-width="0.7"/>
<text x="600.9" y="324.8" font-size="8" text-anchor="middle" fill="#111" font-weight="normal" >0.4</text>
<line x1="477.4" y1="219.6" x2="478.6" y2="219.6" stroke="#555" stroke-width="0.7"/>
<text x="476.6" y="222.5" font-size="8.2" text-anchor="end" fill="#111" font-weight="normal" >0.50</text>
<line x1="477.4" y1="249.9" x2="478.6" y2="249.9" stroke="#555" stroke-width="0.7"/>
<text x="476.6" y="252.8" font-size="8.2" text-anchor="end" fill="#111" font-weight="normal" >0.25</text>
<line x1="477.4" y1="279.9" x2="478.6" y2="279.9" stroke="#555" stroke-width="0.7"/>
<text x="476.6" y="282.79999999999995" font-size="8.2" text-anchor="end" fill="#111" font-weight="normal" >0.00</text>
<line x1="477.4" y1="310.1" x2="478.6" y2="310.1" stroke="#555" stroke-width="0.7"/>
<text x="476.6" y="313.0" font-size="8.2" text-anchor="end" fill="#111" font-weight="normal" >−0.25</text>
<text x="554.4" y="336.2" font-size="8.5" text-anchor="middle" fill="#111" font-weight="normal" >Axis1 (41.46%)</text>
<text x="456.9" y="268.6" font-size="8.5" text-anchor="middle" fill="#111" transform="rotate(-90 456.9 268.6)">Axis2 (24.57%)</text>
<text x="621.2" y="227.0" font-size="9.3" text-anchor="start" fill="#111" font-weight="normal" >Time point</text>
<circle cx="627.6" cy="237.90" r="5.3" fill="#f05a46" fill-opacity="0.95"/>
<line x1="622.0" y1="237.90" x2="633.2" y2="237.90" stroke="#e8202b" stroke-width="0.8" stroke-opacity="0.6"/>
<text x="637.2" y="241.10" font-size="9.3" text-anchor="start" fill="#111" font-weight="normal" >Week 12</text>
<circle cx="627.6" cy="251.28" r="5.3" fill="#b59d45" fill-opacity="0.95"/>
<line x1="622.0" y1="251.28" x2="633.2" y2="251.28" stroke="#b39a32" stroke-width="0.8" stroke-opacity="0.6"/>
<text x="637.2" y="254.48" font-size="9.3" text-anchor="start" fill="#111" font-weight="normal" >Week 20</text>
<circle cx="627.6" cy="264.66" r="5.3" fill="#3fb460" fill-opacity="0.95"/>
<line x1="622.0" y1="264.66" x2="633.2" y2="264.66" stroke="#17a04f" stroke-width="0.8" stroke-opacity="0.6"/>
<text x="637.2" y="267.86" font-size="9.3" text-anchor="start" fill="#111" font-weight="normal" >Week 30</text>
<circle cx="627.6" cy="278.04" r="5.3" fill="#5cc9c9" fill-opacity="0.95"/>
<line x1="622.0" y1="278.04" x2="633.2" y2="278.04" stroke="#22b8ad" stroke-width="0.8" stroke-opacity="0.6"/>
<text x="637.2" y="281.24" font-size="9.3" text-anchor="start" fill="#111" font-weight="normal" >Week 36</text>
<circle cx="627.6" cy="291.42" r="5.3" fill="#3d4fb5" fill-opacity="0.95"/>
<line x1="622.0" y1="291.42" x2="633.2" y2="291.42" stroke="#20349c" stroke-width="0.8" stroke-opacity="0.6"/>
<text x="637.2" y="294.62" font-size="9.3" text-anchor="start" fill="#111" font-weight="normal" >Birth</text>
<circle cx="627.6" cy="304.80" r="5.3" fill="#9058c0" fill-opacity="0.95"/>
<line x1="622.0" y1="304.80" x2="633.2" y2="304.80" stroke="#8540ad" stroke-width="0.8" stroke-opacity="0.6"/>
<text x="637.2" y="308.00" font-size="9.3" text-anchor="start" fill="#111" font-weight="normal" >Postpartum</text>
<g fill-opacity="0.85">
<circle cx="380.5" cy="225.5" r="1.75" fill="#f05a46"/>
<circle cx="382.5" cy="224.2" r="1.75" fill="#3fb460"/>
<circle cx="384.5" cy="226.0" r="1.75" fill="#f05a46"/>
<circle cx="381.8" cy="227.3" r="1.75" fill="#f05a46"/>
<circle cx="383.5" cy="223.2" r="1.75" fill="#3fb460"/>
<circle cx="379.2" cy="227.0" r="1.75" fill="#f05a46"/>
<circle cx="390.5" cy="222.5" r="1.75" fill="#3d4fb5"/>
<circle cx="392.5" cy="224.5" r="1.75" fill="#5cc9c9"/>
<circle cx="394.0" cy="222.0" r="1.75" fill="#9058c0"/>
<circle cx="396.5" cy="225.5" r="1.75" fill="#3d4fb5"/>
<circle cx="398.5" cy="225.0" r="1.75" fill="#3d4fb5"/>
<circle cx="389.8" cy="226.5" r="1.75" fill="#b59d45"/>
<circle cx="392.0" cy="228.2" r="1.75" fill="#5cc9c9"/>
<circle cx="393.5" cy="230.0" r="1.75" fill="#5cc9c9"/>
<circle cx="391.5" cy="221.2" r="1.75" fill="#3fb460"/>
<circle cx="366.6" cy="230.2" r="1.75" fill="#b59d45"/>
<circle cx="369.4" cy="230.4" r="1.75" fill="#5cc9c9"/>
<circle cx="344.0" cy="278.5" r="1.75" fill="#3d4fb5"/>
<circle cx="344.4" cy="277.7" r="1.75" fill="#3fb460"/>
<circle cx="355.1" cy="283.1" r="1.75" fill="#5cc9c9"/>
<circle cx="352.8" cy="273.2" r="1.75" fill="#b59d45"/>
<circle cx="362.0" cy="282.4" r="1.75" fill="#5cc9c9"/>
<circle cx="361.2" cy="273.9" r="1.75" fill="#5cc9c9"/>
<circle cx="352.6" cy="276.9" r="1.75" fill="#3fb460"/>
<circle cx="355.9" cy="277.5" r="1.75" fill="#b59d45"/>
<circle cx="359.1" cy="277.4" r="1.75" fill="#3fb460"/>
<circle cx="356.3" cy="269.4" r="1.75" fill="#5cc9c9"/>
<circle cx="342.4" cy="276.0" r="1.75" fill="#3fb460"/>
<circle cx="364.4" cy="275.7" r="1.75" fill="#5cc9c9"/>
<circle cx="350.1" cy="280.3" r="1.75" fill="#b59d45"/>
<circle cx="362.0" cy="280.7" r="1.75" fill="#3fb460"/>
<circle cx="355.7" cy="270.7" r="1.75" fill="#3d4fb5"/>
<circle cx="352.1" cy="275.8" r="1.75" fill="#b59d45"/>
<circle cx="358.2" cy="272.1" r="1.75" fill="#9058c0"/>
<circle cx="350.0" cy="277.5" r="1.75" fill="#5cc9c9"/>
<circle cx="352.9" cy="270.9" r="1.75" fill="#f05a46"/>
<circle cx="352.2" cy="272.7" r="1.75" fill="#b59d45"/>
<circle cx="353.8" cy="277.4" r="1.75" fill="#3d4fb5"/>
<circle cx="355.7" cy="283.5" r="1.75" fill="#3fb460"/>
<circle cx="355.8" cy="285.8" r="1.75" fill="#f05a46"/>
<circle cx="350.0" cy="273.5" r="1.75" fill="#3fb460"/>
<circle cx="353.2" cy="281.0" r="1.75" fill="#3d4fb5"/>
<circle cx="353.8" cy="270.8" r="1.75" fill="#3d4fb5"/>
<circle cx="353.6" cy="282.3" r="1.75" fill="#3d4fb5"/>
<circle cx="350.1" cy="273.7" r="1.75" fill="#9058c0"/>
<circle cx="353.2" cy="280.9" r="1.75" fill="#5cc9c9"/>
<circle cx="349.4" cy="280.8" r="1.75" fill="#f05a46"/>
<circle cx="359.3" cy="280.6" r="1.75" fill="#b59d45"/>
<circle cx="347.0" cy="272.3" r="1.75" fill="#3fb460"/>
<circle cx="359.2" cy="274.1" r="1.75" fill="#3fb460"/>
<circle cx="354.8" cy="272.9" r="1.75" fill="#f05a46"/>
<circle cx="362.1" cy="269.5" r="1.75" fill="#b59d45"/>
<circle cx="355.9" cy="285.9" r="1.75" fill="#3d4fb5"/>
<circle cx="358.5" cy="270.0" r="1.75" fill="#3fb460"/>
<circle cx="353.5" cy="277.1" r="1.75" fill="#3d4fb5"/>
<circle cx="352.7" cy="286.1" r="1.75" fill="#b59d45"/>
<circle cx="355.9" cy="268.2" r="1.75" fill="#b59d45"/>
<circle cx="356.7" cy="285.3" r="1.75" fill="#f05a46"/>
<circle cx="353.1" cy="284.2" r="1.75" fill="#3d4fb5"/>
<circle cx="348.0" cy="272.5" r="1.75" fill="#3d4fb5"/>
<circle cx="352.3" cy="277.1" r="1.75" fill="#b59d45"/>
<circle cx="349.8" cy="276.8" r="1.75" fill="#f05a46"/>
<circle cx="346.2" cy="282.2" r="1.75" fill="#f05a46"/>
<circle cx="343.1" cy="286.4" r="1.75" fill="#9058c0"/>
<circle cx="346.5" cy="267.7" r="1.75" fill="#3fb460"/>
<circle cx="353.1" cy="277.3" r="1.75" fill="#f05a46"/>
<circle cx="360.5" cy="270.6" r="1.75" fill="#3d4fb5"/>
<circle cx="361.2" cy="277.2" r="1.75" fill="#3fb460"/>
<circle cx="351.3" cy="270.3" r="1.75" fill="#9058c0"/>
<circle cx="359.3" cy="279.7" r="1.75" fill="#5cc9c9"/>
<circle cx="360.6" cy="269.8" r="1.75" fill="#5cc9c9"/>
<circle cx="355.9" cy="262.1" r="1.75" fill="#b59d45"/>
<circle cx="346.5" cy="263.2" r="1.75" fill="#3d4fb5"/>
<circle cx="342.0" cy="281.7" r="1.75" fill="#3d4fb5"/>
<circle cx="343.8" cy="272.0" r="1.75" fill="#3fb460"/>
<circle cx="344.3" cy="271.6" r="1.75" fill="#f05a46"/>
<circle cx="359.6" cy="268.8" r="1.75" fill="#3fb460"/>
<circle cx="351.2" cy="267.5" r="1.75" fill="#3fb460"/>
<circle cx="353.4" cy="273.7" r="1.75" fill="#5cc9c9"/>
<circle cx="342.8" cy="259.9" r="1.75" fill="#5cc9c9"/>
<circle cx="381.2" cy="244.9" r="1.75" fill="#3fb460"/>
<circle cx="356.4" cy="257.3" r="1.75" fill="#5cc9c9"/>
<circle cx="362.2" cy="247.9" r="1.75" fill="#3fb460"/>
<circle cx="361.6" cy="255.1" r="1.75" fill="#3d4fb5"/>
<circle cx="345.8" cy="261.1" r="1.75" fill="#5cc9c9"/>
<circle cx="370.6" cy="245.8" r="1.75" fill="#f05a46"/>
<circle cx="354.1" cy="260.6" r="1.75" fill="#f05a46"/>
<circle cx="371.2" cy="245.8" r="1.75" fill="#3fb460"/>
<circle cx="340.9" cy="261.8" r="1.75" fill="#b59d45"/>
<circle cx="352.4" cy="253.5" r="1.75" fill="#3fb460"/>
<circle cx="356.9" cy="253.1" r="1.75" fill="#f05a46"/>
<circle cx="366.7" cy="250.6" r="1.75" fill="#f05a46"/>
<circle cx="364.3" cy="249.5" r="1.75" fill="#3d4fb5"/>
<circle cx="353.5" cy="258.4" r="1.75" fill="#b59d45"/>
<circle cx="356.2" cy="249.0" r="1.75" fill="#f05a46"/>
<circle cx="375.7" cy="238.8" r="1.75" fill="#3fb460"/>
<circle cx="352.1" cy="251.4" r="1.75" fill="#f05a46"/>
<circle cx="350.5" cy="262.1" r="1.75" fill="#3fb460"/>
<circle cx="360.0" cy="246.6" r="1.75" fill="#b59d45"/>
<circle cx="361.3" cy="251.4" r="1.75" fill="#3fb460"/>
<circle cx="354.6" cy="247.1" r="1.75" fill="#b59d45"/>
<circle cx="360.8" cy="247.0" r="1.75" fill="#f05a46"/>
<circle cx="358.9" cy="250.4" r="1.75" fill="#b59d45"/>
<circle cx="379.4" cy="283.8" r="1.75" fill="#9058c0"/>
<circle cx="384.6" cy="263.4" r="1.75" fill="#3d4fb5"/>
<circle cx="369.4" cy="282.8" r="1.75" fill="#3d4fb5"/>
<circle cx="374.3" cy="268.0" r="1.75" fill="#3fb460"/>
<circle cx="364.6" cy="260.2" r="1.75" fill="#3fb460"/>
<circle cx="388.5" cy="267.9" r="1.75" fill="#f05a46"/>
<circle cx="377.3" cy="259.7" r="1.75" fill="#b59d45"/>
<circle cx="376.9" cy="260.2" r="1.75" fill="#f05a46"/>
<circle cx="364.8" cy="263.5" r="1.75" fill="#3d4fb5"/>
<circle cx="380.2" cy="268.3" r="1.75" fill="#5cc9c9"/>
<circle cx="373.2" cy="279.1" r="1.75" fill="#5cc9c9"/>
<circle cx="362.7" cy="262.5" r="1.75" fill="#5cc9c9"/>
<circle cx="373.4" cy="273.2" r="1.75" fill="#3d4fb5"/>
<circle cx="379.9" cy="261.4" r="1.75" fill="#3d4fb5"/>
<circle cx="384.4" cy="262.8" r="1.75" fill="#5cc9c9"/>
<circle cx="378.6" cy="275.6" r="1.75" fill="#3fb460"/>
<circle cx="401.2" cy="250.6" r="1.75" fill="#3d4fb5"/>
<circle cx="396.3" cy="266.9" r="1.75" fill="#3d4fb5"/>
<circle cx="392.5" cy="274.6" r="1.75" fill="#3d4fb5"/>
<circle cx="400.2" cy="277.5" r="1.75" fill="#3d4fb5"/>
<circle cx="403.1" cy="280.4" r="1.75" fill="#3d4fb5"/>
<circle cx="407.9" cy="279.4" r="1.75" fill="#3d4fb5"/>
<circle cx="412.7" cy="278.5" r="1.75" fill="#3d4fb5"/>
<circle cx="416.5" cy="275.6" r="1.75" fill="#3d4fb5"/>
<circle cx="419.4" cy="272.7" r="1.75" fill="#3d4fb5"/>
<circle cx="411.7" cy="271.7" r="1.75" fill="#3d4fb5"/>
<circle cx="394.5" cy="262.0" r="1.75" fill="#3d4fb5"/>
<circle cx="421.0" cy="283.0" r="1.75" fill="#3d4fb5"/>
<circle cx="399.2" cy="257.7" r="1.75" fill="#5cc9c9"/>
<circle cx="397.3" cy="270.8" r="1.75" fill="#5cc9c9"/>
<circle cx="410.8" cy="274.6" r="1.75" fill="#5cc9c9"/>
<circle cx="409.8" cy="289.0" r="1.75" fill="#5cc9c9"/>
<circle cx="412.5" cy="281.0" r="1.75" fill="#5cc9c9"/>
<circle cx="406.0" cy="270.8" r="1.75" fill="#f05a46"/>
<circle cx="399.2" cy="274.6" r="1.75" fill="#f05a46"/>
<circle cx="404.0" cy="280.4" r="1.75" fill="#f05a46"/>
<circle cx="415.6" cy="267.9" r="1.75" fill="#f05a46"/>
<circle cx="415.6" cy="275.6" r="1.75" fill="#f05a46"/>
<circle cx="408.8" cy="251.9" r="1.75" fill="#9058c0"/>
<circle cx="404.0" cy="260.8" r="1.75" fill="#9058c0"/>
<circle cx="408.8" cy="267.9" r="1.75" fill="#9058c0"/>
<circle cx="414.2" cy="265.0" r="1.75" fill="#9058c0"/>
<circle cx="400.2" cy="295.8" r="1.75" fill="#9058c0"/>
<circle cx="386.5" cy="274.5" r="1.75" fill="#9058c0"/>
<circle cx="388.0" cy="276.5" r="1.75" fill="#9058c0"/>
<circle cx="417.5" cy="268.8" r="1.75" fill="#3fb460"/>
<circle cx="391.5" cy="256.0" r="1.75" fill="#b59d45"/>
<circle cx="391.5" cy="262.0" r="1.75" fill="#b59d45"/>
<circle cx="392.0" cy="250.0" r="1.75" fill="#b59d45"/>
<circle cx="415.2" cy="284.2" r="1.75" fill="#9058c0"/>
<circle cx="411.8" cy="284.4" r="1.75" fill="#9058c0"/>
<circle cx="411.5" cy="282.5" r="1.75" fill="#9058c0"/>
<circle cx="420.8" cy="287.8" r="1.75" fill="#9058c0"/>
<circle cx="415.4" cy="291.2" r="1.75" fill="#9058c0"/>
<circle cx="419.9" cy="281.3" r="1.75" fill="#9058c0"/>
<circle cx="418.1" cy="292.1" r="1.75" fill="#9058c0"/>
<circle cx="421.0" cy="291.9" r="1.75" fill="#5cc9c9"/>
<circle cx="417.0" cy="288.7" r="1.75" fill="#9058c0"/>
<circle cx="414.3" cy="289.6" r="1.75" fill="#9058c0"/>
<circle cx="421.4" cy="290.5" r="1.75" fill="#9058c0"/>
<circle cx="412.8" cy="284.7" r="1.75" fill="#9058c0"/>
<circle cx="411.6" cy="283.9" r="1.75" fill="#9058c0"/>
<circle cx="411.6" cy="288.5" r="1.75" fill="#9058c0"/>
<circle cx="417.7" cy="292.5" r="1.75" fill="#9058c0"/>
<circle cx="409.7" cy="278.0" r="1.75" fill="#9058c0"/>
<circle cx="415.6" cy="275.0" r="1.75" fill="#9058c0"/>
<circle cx="414.5" cy="289.4" r="1.75" fill="#9058c0"/>
<circle cx="417.7" cy="283.1" r="1.75" fill="#9058c0"/>
<circle cx="415.5" cy="280.8" r="1.75" fill="#9058c0"/>
<circle cx="418.2" cy="280.0" r="1.75" fill="#9058c0"/>
<circle cx="419.0" cy="289.0" r="1.75" fill="#9058c0"/>
<circle cx="418.8" cy="285.4" r="1.75" fill="#9058c0"/>
<circle cx="419.7" cy="289.3" r="1.75" fill="#9058c0"/>
<circle cx="521.1" cy="284.0" r="1.75" fill="#5cc9c9"/>
<circle cx="520.2" cy="283.1" r="1.75" fill="#5cc9c9"/>
<circle cx="499.7" cy="272.5" r="1.75" fill="#f05a46"/>
<circle cx="520.1" cy="283.4" r="1.75" fill="#5cc9c9"/>
<circle cx="506.5" cy="277.8" r="1.75" fill="#3fb460"/>
<circle cx="540.6" cy="296.1" r="1.75" fill="#5cc9c9"/>
<circle cx="524.7" cy="287.2" r="1.75" fill="#5cc9c9"/>
<circle cx="533.2" cy="291.6" r="1.75" fill="#3fb460"/>
<circle cx="516.0" cy="280.8" r="1.75" fill="#5cc9c9"/>
<circle cx="525.6" cy="287.0" r="1.75" fill="#5cc9c9"/>
<circle cx="527.2" cy="288.0" r="1.75" fill="#b59d45"/>
<circle cx="518.9" cy="283.4" r="1.75" fill="#3d4fb5"/>
<circle cx="515.0" cy="282.8" r="1.75" fill="#5cc9c9"/>
<circle cx="521.6" cy="283.8" r="1.75" fill="#5cc9c9"/>
<circle cx="528.6" cy="276.1" r="1.75" fill="#3d4fb5"/>
<circle cx="519.9" cy="273.5" r="1.75" fill="#3d4fb5"/>
<circle cx="523.1" cy="271.6" r="1.75" fill="#3d4fb5"/>
<circle cx="514.6" cy="269.5" r="1.75" fill="#3d4fb5"/>
<circle cx="525.5" cy="268.6" r="1.75" fill="#9058c0"/>
<circle cx="536.3" cy="265.7" r="1.75" fill="#9058c0"/>
<circle cx="538.4" cy="285.9" r="1.75" fill="#3d4fb5"/>
<circle cx="570.8" cy="241.7" r="1.75" fill="#9058c0"/>
<circle cx="574.0" cy="241.7" r="1.75" fill="#9058c0"/>
<circle cx="578.1" cy="244.3" r="1.75" fill="#9058c0"/>
<circle cx="557.0" cy="247.3" r="1.75" fill="#9058c0"/>
<circle cx="559.5" cy="247.3" r="1.75" fill="#9058c0"/>
<circle cx="564.8" cy="245.8" r="1.75" fill="#9058c0"/>
<circle cx="567.4" cy="245.4" r="1.75" fill="#9058c0"/>
<circle cx="568.1" cy="247.6" r="1.75" fill="#9058c0"/>
<circle cx="566.3" cy="249.8" r="1.75" fill="#9058c0"/>
<circle cx="569.6" cy="250.5" r="1.75" fill="#9058c0"/>
<circle cx="571.0" cy="251.5" r="1.75" fill="#9058c0"/>
<circle cx="558.5" cy="251.6" r="1.75" fill="#9058c0"/>
<circle cx="574.0" cy="253.5" r="1.75" fill="#9058c0"/>
<circle cx="575.5" cy="253.9" r="1.75" fill="#9058c0"/>
<circle cx="568.8" cy="255.3" r="1.75" fill="#9058c0"/>
<circle cx="581.4" cy="255.7" r="1.75" fill="#9058c0"/>
<circle cx="585.5" cy="251.4" r="1.75" fill="#9058c0"/>
<circle cx="543.0" cy="262.4" r="1.75" fill="#9058c0"/>
<circle cx="555.8" cy="261.6" r="1.75" fill="#9058c0"/>
<circle cx="571.3" cy="262.1" r="1.75" fill="#9058c0"/>
<circle cx="583.6" cy="263.5" r="1.75" fill="#9058c0"/>
<circle cx="565.1" cy="264.6" r="1.75" fill="#9058c0"/>
<circle cx="536.8" cy="257.7" r="1.75" fill="#9058c0"/>
<circle cx="542.8" cy="262.4" r="1.75" fill="#9058c0"/>
<circle cx="565.9" cy="248.8" r="1.75" fill="#3d4fb5"/>
<circle cx="547.4" cy="261.6" r="1.75" fill="#3d4fb5"/>
<circle cx="576.7" cy="264.6" r="1.75" fill="#3d4fb5"/>
<circle cx="581.4" cy="259.4" r="1.75" fill="#3d4fb5"/>
<circle cx="547.7" cy="250.5" r="1.75" fill="#f05a46"/>
<circle cx="580.7" cy="257.9" r="1.75" fill="#f05a46"/>
<circle cx="587.3" cy="262.1" r="1.75" fill="#f05a46"/>
<circle cx="545.9" cy="268.0" r="1.75" fill="#f05a46"/>
<circle cx="553.7" cy="252.4" r="1.75" fill="#5cc9c9"/>
<circle cx="550.0" cy="261.6" r="1.75" fill="#5cc9c9"/>
<circle cx="570.3" cy="257.2" r="1.75" fill="#3fb460"/>
<circle cx="558.5" cy="259.8" r="1.75" fill="#b59d45"/>
<circle cx="533.9" cy="250.9" r="1.75" fill="#b59d45"/>
<circle cx="564.8" cy="264.5" r="1.75" fill="#9058c0"/>
<circle cx="571.4" cy="262.8" r="1.75" fill="#9058c0"/>
<circle cx="563.7" cy="268.6" r="1.75" fill="#9058c0"/>
<circle cx="573.9" cy="284.8" r="1.75" fill="#9058c0"/>
<circle cx="583.4" cy="285.2" r="1.75" fill="#9058c0"/>
<circle cx="600.4" cy="290.5" r="1.75" fill="#9058c0"/>
<circle cx="574.8" cy="306.7" r="1.75" fill="#9058c0"/>
<circle cx="588.0" cy="308.3" r="1.75" fill="#9058c0"/>
<circle cx="595.4" cy="300.1" r="1.75" fill="#9058c0"/>
<circle cx="583.4" cy="263.7" r="1.75" fill="#9058c0"/>
<circle cx="576.7" cy="264.5" r="1.75" fill="#3d4fb5"/>
<circle cx="552.9" cy="269.4" r="1.75" fill="#3d4fb5"/>
<circle cx="551.3" cy="278.6" r="1.75" fill="#3d4fb5"/>
<circle cx="556.6" cy="293.1" r="1.75" fill="#3d4fb5"/>
<circle cx="592.6" cy="300.4" r="1.75" fill="#3d4fb5"/>
<circle cx="592.1" cy="307.5" r="1.75" fill="#3d4fb5"/>
<circle cx="546.1" cy="269.0" r="1.75" fill="#f05a46"/>
<circle cx="564.0" cy="302.5" r="1.75" fill="#f05a46"/>
<circle cx="559.9" cy="306.7" r="1.75" fill="#f05a46"/>
<circle cx="590.5" cy="302.5" r="1.75" fill="#f05a46"/>
<circle cx="587.2" cy="262.8" r="1.75" fill="#f05a46"/>
<circle cx="546.6" cy="301.4" r="1.75" fill="#f05a46"/>
<circle cx="548.5" cy="296.0" r="1.75" fill="#f05a46"/>
<circle cx="572.3" cy="271.4" r="1.75" fill="#3fb460"/>
<circle cx="568.1" cy="299.7" r="1.75" fill="#3fb460"/>
<circle cx="578.1" cy="311.3" r="1.75" fill="#3fb460"/>
<circle cx="585.0" cy="310.0" r="1.75" fill="#3fb460"/>
<circle cx="555.7" cy="301.4" r="1.75" fill="#3fb460"/>
<circle cx="577.0" cy="311.8" r="1.75" fill="#3fb460"/>
<circle cx="579.5" cy="310.5" r="1.75" fill="#3fb460"/>
<circle cx="558.5" cy="298.4" r="1.75" fill="#5cc9c9"/>
<circle cx="582.2" cy="301.4" r="1.75" fill="#5cc9c9"/>
<circle cx="566.5" cy="306.7" r="1.75" fill="#5cc9c9"/>
<circle cx="549.9" cy="300.9" r="1.75" fill="#5cc9c9"/>
<circle cx="588.8" cy="307.5" r="1.75" fill="#5cc9c9"/>
<circle cx="552.0" cy="297.5" r="1.75" fill="#5cc9c9"/>
<circle cx="554.6" cy="301.7" r="1.75" fill="#b59d45"/>
<circle cx="554.1" cy="304.2" r="1.75" fill="#b59d45"/>
<circle cx="587.7" cy="300.4" r="1.75" fill="#b59d45"/>
<circle cx="564.8" cy="306.4" r="1.75" fill="#b59d45"/>
<circle cx="577.0" cy="309.5" r="1.75" fill="#b59d45"/>
<circle cx="550.5" cy="298.5" r="1.75" fill="#b59d45"/>
<circle cx="547.0" cy="299.0" r="1.75" fill="#b59d45"/>
</g>
<ellipse cx="357.88" cy="268.68" rx="42.78" ry="27.98" transform="rotate(-27.84 357.88 268.68)" fill="none" stroke="#e8202b" stroke-width="1.45"/>
<ellipse cx="358.34" cy="265.94" rx="43.11" ry="24.91" transform="rotate(-39.48 358.34 265.94)" fill="none" stroke="#b39a32" stroke-width="1.45"/>
<ellipse cx="353.84" cy="268.53" rx="41.21" ry="21.26" transform="rotate(-50.27 353.84 268.53)" fill="none" stroke="#17a04f" stroke-width="1.45"/>
<ellipse cx="355.73" cy="268.23" rx="41.83" ry="25.46" transform="rotate(-46.17 355.73 268.23)" fill="none" stroke="#22b8ad" stroke-width="1.45"/>
<ellipse cx="375.68" cy="267.14" rx="61.76" ry="30.52" transform="rotate(6.37 375.68 267.14)" fill="none" stroke="#20349c" stroke-width="1.45"/>
<ellipse cx="411.05" cy="279.35" rx="36.97" ry="20.29" transform="rotate(59.83 411.05 279.35)" fill="none" stroke="#8540ad" stroke-width="1.45"/>
<ellipse cx="517.20" cy="281.00" rx="35.00" ry="9.70" transform="rotate(21.00 517.20 281.00)" fill="none" stroke="#e8202b" stroke-width="1.45"/>
<ellipse cx="516.45" cy="281.85" rx="35.60" ry="2.20" transform="rotate(26.30 516.45 281.85)" fill="none" stroke="#b39a32" stroke-width="1.45"/>
<ellipse cx="514.80" cy="281.20" rx="21.60" ry="1.50" transform="rotate(25.50 514.80 281.20)" fill="none" stroke="#17a04f" stroke-width="1.45"/>
<ellipse cx="515.10" cy="281.20" rx="22.30" ry="2.60" transform="rotate(25.50 515.10 281.20)" fill="none" stroke="#22b8ad" stroke-width="1.45"/>
<ellipse cx="517.30" cy="280.05" rx="30.28" ry="11.55" transform="rotate(-4.41 517.30 280.05)" fill="none" stroke="#20349c" stroke-width="1.45"/>
<ellipse cx="567.75" cy="257.40" rx="39.65" ry="34.36" transform="rotate(29.30 567.75 257.40)" fill="none" stroke="#8540ad" stroke-width="1.45"/>
</svg>
</body></html>
